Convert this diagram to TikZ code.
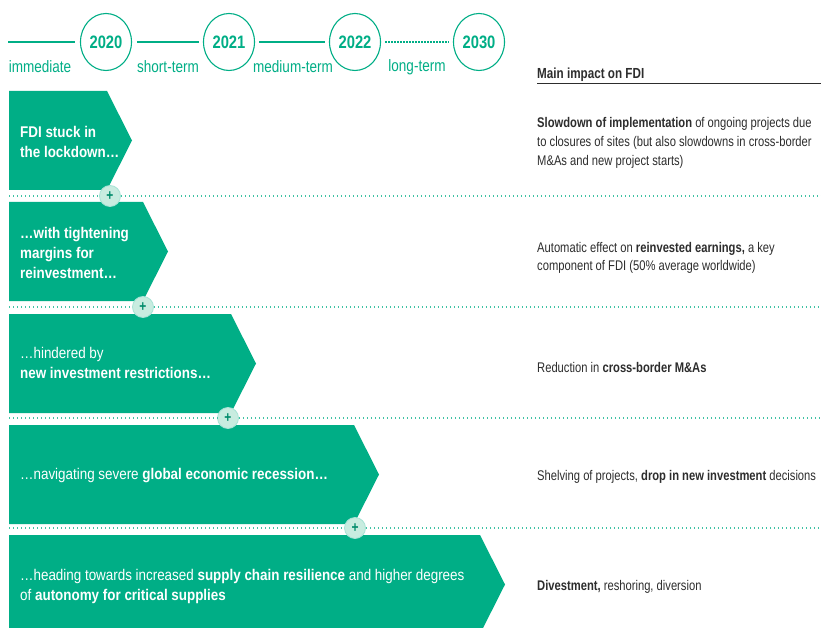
\documentclass[tikz,border=0pt]{standalone}
\usepackage{fontspec}
\setmainfont{Liberation Sans}[FakeStretch=0.8]
\newfontfamily\phasefont{Liberation Sans}[FakeStretch=0.865]
\newfontfamily\termfont{Liberation Sans}[FakeStretch=0.82]
\usetikzlibrary{shapes.geometric, positioning}
\definecolor{fdigreen}{RGB}{0,174,134}
\definecolor{fdimint}{RGB}{200,236,224}
\definecolor{fdigray}{RGB}{45,45,45}
\tikzset{
  phase/.style={fill=fdigreen},
  phasetext/.style={anchor=west, inner sep=0pt, text=white, align=left, font=\phasefont\fontsize{15.5}{20}\selectfont},
  impact/.style={anchor=west, inner sep=0pt, text=fdigray, align=left, font=\fontsize{14}{18.7}\selectfont},
  year/.style={draw=fdigreen, line width=1.1pt, ellipse, minimum width=51pt, minimum height=57pt, inner sep=0pt, text=fdigreen, font=\termfont\fontsize{18}{18}\selectfont\bfseries},
  term/.style={text=fdigreen, inner sep=0pt, font=\termfont\fontsize{16.5}{16.5}\selectfont},
  plus/.style={circle, draw=fdigreen!35, line width=0.8pt, fill=fdimint, minimum size=21pt, inner sep=0pt, text=fdigreen!80!black, font=\fontsize{15}{15}\selectfont\bfseries},
  sep/.style={draw=fdigreen!75, line width=1.3pt, dash pattern=on 1.3pt off 2.7pt}
}
\begin{document}
\begin{tikzpicture}[x=1pt, y=-1pt]
  \clip (0,0) rectangle (821,628);
  \fill[white] (0,0) rectangle (821,628);

  \node[year] (y2020) at (106,42) {2020};
  \node[year] (y2021) at (229,42) {2021};
  \node[year] (y2022) at (355,42) {2022};
  \node[year] (y2030) at (479,42) {2030};
  \coordinate (tstart) at (8,42);
  \draw[fdigreen, line width=2.5pt] (tstart) -- ([xshift=-5pt]y2020.west);
  \draw[fdigreen, line width=2.5pt] ([xshift=5pt]y2020.east) -- ([xshift=-4pt]y2021.west);
  \draw[fdigreen, line width=2.5pt] ([xshift=4pt]y2021.east) -- ([xshift=-4pt]y2022.west);
  \draw[fdigreen, line width=2.5pt, dash pattern=on 1.5pt off 1.5pt] ([xshift=4pt]y2022.east) -- ([xshift=-4pt]y2030.west);
  \node[term] (t1) at (40,67) {immediate};
  \node[term] (t2) at (168,67) {short-term};
  \node[term] (t3) at (293,67) {medium-term};
  \node[term] (t4) at (417,67) {long-term};

  \node[impact, font=\fontsize{14.6}{18.7}\selectfont\bfseries] (head) at (537,75) {Main impact on FDI};
  \coordinate (rule) at (821,83);
  \draw[fdigray, line width=0.9pt] (537,83) -- (rule);

  \foreach \top/\right in {91/107, 202/143, 314/231, 425/354, 535/480}
    \fill[phase] (9,\top) -- (\right,\top) -- ({\right+25},{\top+49.5}) -- (\right,{\top+99}) -- (9,{\top+99}) -- cycle;

  \foreach \y/\x [count=\i] in {196/110, 307/143, 418/228, 528/355} {
    \node[plus] (plus\i) at (\x,\y) {+};
    \coordinate (sl\i) at (9,\y);
    \coordinate (sr\i) at (821,\y);
    \draw[sep] (sl\i) -- (plus\i.west);
    \draw[sep] (plus\i.east) -- (sr\i);
  }

  \node[phasetext] (box1) at (20,142) {\textbf{FDI stuck in}\\\textbf{the lockdown…}};
  \node[phasetext] (box2) at (20,253) {\textbf{…with tightening}\\\textbf{margins for}\\\textbf{reinvestment…}};
  \node[phasetext] (box3) at (20,363) {…hindered by\\\textbf{new investment restrictions…}};
  \node[phasetext] (box4) at (20,476) {…navigating severe \textbf{global economic recession…}};
  \node[phasetext] (box5) at (20,586) {…heading towards increased \textbf{supply chain resilience} and higher degrees\\of \textbf{autonomy for critical supplies}};

  \node[impact] (imp1) at (537,143) {\textbf{Slowdown of implementation} of ongoing projects due\\to closures of sites (but also slowdowns in cross-border\\M\&As and new project starts)};
  \node[impact] (imp2) at (537,258) {Automatic effect on \textbf{reinvested earnings,} a key\\component of FDI (50\% average worldwide)};
  \node[impact] (imp3) at (537,367) {Reduction in \textbf{cross-border M\&As}};
  \node[impact] (imp4) at (537,477) {Shelving of projects, \textbf{drop in new investment} decisions};
  \node[impact] (imp5) at (537,587) {\textbf{Divestment,} reshoring, diversion};
\end{tikzpicture}
\end{document}
